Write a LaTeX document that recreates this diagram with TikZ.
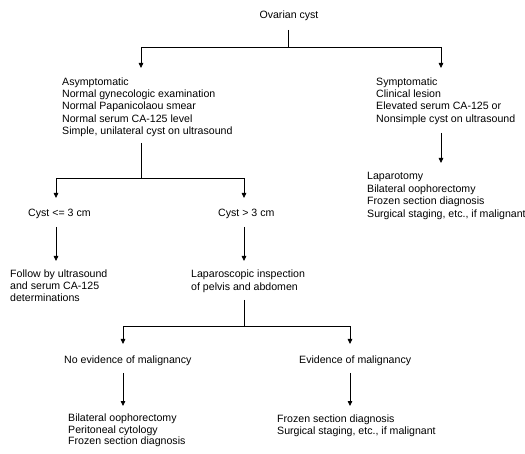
\documentclass[tikz,border=0pt]{standalone}
\usepackage{fontspec}
\setmainfont{Liberation Sans}
\usetikzlibrary{arrows.meta}
\begin{document}
\begin{tikzpicture}[x=1pt,y=-1pt,
  lbl/.style={inner sep=0pt,anchor=base west,align=left,font=\fontsize{10.6pt}{12.2pt}\selectfont},
  ln/.style={line width=0.8pt,black},
  arr/.style={ln,-{Triangle[width=4.5pt,length=5pt]}}]
\useasboundingbox (0,0) rectangle (525,454);
% nodes (base = baseline of last line)
\node[lbl,anchor=base] (root) at (289,18.5) {Ovarian cyst};
\node[lbl] (asym) at (62,134.3) {Asymptomatic\\Normal gynecologic examination\\Normal Papanicolaou smear\\Normal serum CA-125 level\\Simple, unilateral cyst on ultrasound};
\node[lbl] (sym) at (376,122.1) {Symptomatic\\Clinical lesion\\Elevated serum CA-125 or\\Nonsimple cyst on ultrasound};
\node[lbl,font=\fontsize{10.6pt}{12.6pt}\selectfont] (lapar) at (367,217.3) {Laparotomy\\Bilateral oophorectomy\\Frozen section diagnosis\\Surgical staging, etc., if malignant};
\node[lbl] (small) at (28,216.5) {Cyst <= 3 cm};
\node[lbl] (large) at (218,216.5) {Cyst > 3 cm};
\node[lbl] (follow) at (10,301.9) {Follow by ultrasound\\and serum CA-125\\determinations};
\node[lbl,font=\fontsize{10.6pt}{12.8pt}\selectfont] (lapinsp) at (191,290.3) {Laparoscopic inspection\\of pelvis and abdomen};
\node[lbl] (noev) at (64,363.5) {No evidence of malignancy};
\node[lbl] (ev) at (299,363.5) {Evidence of malignancy};
\node[lbl,font=\fontsize{10.6pt}{11.7pt}\selectfont] (bil) at (68,444.9) {Bilateral oophorectomy\\Peritoneal cytology\\Frozen section diagnosis};
\node[lbl,font=\fontsize{10.6pt}{12pt}\selectfont] (froz) at (277,434.5) {Frozen section diagnosis\\Surgical staging, etc., if malignant};
% coordinates
\coordinate (r0) at (288.5,30);
\coordinate (r1) at (288.5,47);
\coordinate (tA) at (141,68);
\coordinate (tS) at (441,68);
\coordinate (a0) at (141,143);
\coordinate (a1) at (141,178);
\coordinate (tSm) at (56,198);
\coordinate (tLg) at (244,198);
\coordinate (s0) at (441,133);
\coordinate (tLap) at (441,163);
\coordinate (sm0) at (56,227);
\coordinate (tFol) at (56,261);
\coordinate (lg0) at (244,227);
\coordinate (tIns) at (244,261);
\coordinate (i0) at (244,300);
\coordinate (i1) at (244,326);
\coordinate (tNo) at (123,344);
\coordinate (tEv) at (350,344);
\coordinate (no0) at (123,373);
\coordinate (tBil) at (123,406);
\coordinate (ev0) at (350,373);
\coordinate (tFr) at (350,406);
% connectors
\draw[ln] (r0) -- (r1);
\draw[arr] (r1) -| (tA);
\draw[arr] (r1) -| (tS);
\draw[ln] (a0) -- (a1);
\draw[arr] (a1) -| (tSm);
\draw[arr] (a1) -| (tLg);
\draw[arr] (s0) -- (tLap);
\draw[arr] (sm0) -- (tFol);
\draw[arr] (lg0) -- (tIns);
\draw[ln] (i0) -- (i1);
\draw[arr] (i1) -| (tNo);
\draw[arr] (i1) -| (tEv);
\draw[arr] (no0) -- (tBil);
\draw[arr] (ev0) -- (tFr);
\end{tikzpicture}
\end{document}
